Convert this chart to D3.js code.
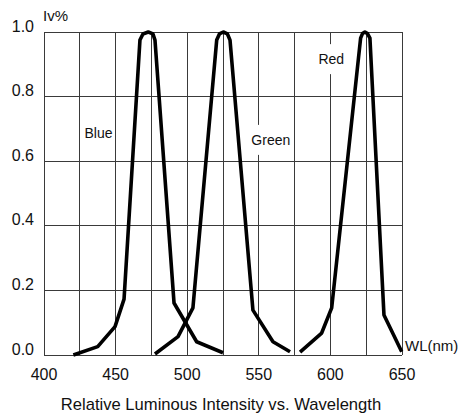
<!DOCTYPE html>
<html>
<head>
<meta charset="utf-8">
<script src="https://cdn.jsdelivr.net/npm/d3@7"></script>
<style>
    body { margin: 0; background: #fff; }
    text { font-family: "Liberation Sans", Arial, sans-serif; fill: #111; }
</style>
</head>
<body>
<div id="chart"></div>
<script>
// values (wavelength nm, relative intensity)
var blueWl = [420.5, 437.5, 449.6, 455.9, 467.0, 469.1, 472.8, 476.1, 477.5, 490.8, 506.6, 525.0];
var blueIv = [0.0, 0.026, 0.088, 0.173, 0.975, 0.994, 1.0, 0.994, 0.975, 0.161, 0.041, 0.007];
var greenWl = [477.5, 493.6, 504.0, 520.6, 522.5, 525.2, 528.1, 529.9, 545.9, 559.9, 571.8];
var greenIv = [0.003, 0.057, 0.146, 0.975, 0.994, 1.0, 0.994, 0.975, 0.139, 0.041, 0.010];
var redWl = [578.8, 593.9, 600.9, 621.1, 622.4, 624.1, 625.9, 627.6, 637.4, 649.8];
var redIv = [0.009, 0.068, 0.146, 0.981, 0.995, 1.0, 0.995, 0.981, 0.124, 0.010];

var xTicks = [400, 450, 500, 550, 600, 650];
var xGrid = [400, 425, 450, 475, 500, 525, 550, 575, 600, 625, 650];
var yTicks = [0.0, 0.2, 0.4, 0.6, 0.8, 1.0];

// series labels: name, wavelength, intensity where the label sits
var labels = [
    { name: "Blue", wl: 438.1, iv: 0.687 },
    { name: "Green", wl: 558.4, iv: 0.666 },
    { name: "Red", wl: 600.6, iv: 0.916 }
];

var width = 467, height = 419;
var svg = d3.select("#chart").append("svg")
    .attr("width", width)
    .attr("height", height);

var x = d3.scaleLinear().domain([400, 650]).range([44, 402]);
var y = d3.scaleLinear().domain([0, 1]).range([355, 32]);

var grid = svg.append("g")
    .attr("stroke", "#3a3a3a")
    .attr("stroke-width", 1)
    .attr("shape-rendering", "crispEdges");

grid.selectAll(".vgrid").data(xGrid).enter().append("line")
    .attr("x1", function (d) { return x(d); })
    .attr("x2", function (d) { return x(d); })
    .attr("y1", y(0))
    .attr("y2", y(1));

grid.selectAll(".hgrid").data(yTicks).enter().append("line")
    .attr("x1", x(400))
    .attr("x2", x(650))
    .attr("y1", function (d) { return y(d); })
    .attr("y2", function (d) { return y(d); });

// labels on white patches that cut the grid
labels.forEach(function (l) {
    var g = svg.append("g");
    var t = g.append("text")
        .attr("x", x(l.wl))
        .attr("y", y(l.iv))
        .attr("font-size", 14)
        .attr("text-anchor", "middle")
        .attr("dominant-baseline", "central")
        .text(l.name);
    var bb = t.node().getBBox();
    g.insert("rect", "text")
        .attr("x", bb.x - 2)
        .attr("y", bb.y - 7)
        .attr("width", bb.width + 4)
        .attr("height", bb.height + 14)
        .attr("fill", "#fff");
});

var line = d3.line()
    .x(function (d) { return x(d[0]); })
    .y(function (d) { return y(d[1]); });

[[blueWl, blueIv], [greenWl, greenIv], [redWl, redIv]].forEach(function (s) {
    svg.append("path")
        .datum(d3.zip(s[0], s[1]))
        .attr("d", line)
        .attr("fill", "none")
        .attr("stroke", "#000")
        .attr("stroke-width", 3.6)
        .attr("stroke-linejoin", "round");
});

svg.selectAll(".ylab").data(yTicks).enter().append("text")
    .attr("x", 34)
    .attr("y", function (d) { return y(d) - 6; })
    .attr("font-size", 16)
    .attr("text-anchor", "end")
    .attr("dominant-baseline", "central")
    .text(function (d) { return d.toFixed(1); });

svg.selectAll(".xlab").data(xTicks).enter().append("text")
    .attr("x", function (d) { return x(d); })
    .attr("y", 380)
    .attr("font-size", 16)
    .attr("text-anchor", "middle")
    .text(function (d) { return d; });

svg.append("text")
    .attr("x", 43)
    .attr("y", 21)
    .attr("font-size", 15)
    .text("Iv%");

svg.append("text")
    .attr("x", 405)
    .attr("y", 351)
    .attr("font-size", 15)
    .text("WL(nm)");

svg.append("text")
    .attr("x", 221)
    .attr("y", 410)
    .attr("font-size", 16.6)
    .attr("text-anchor", "middle")
    .text("Relative Luminous Intensity vs. Wavelength");
</script>
</body>
</html>
